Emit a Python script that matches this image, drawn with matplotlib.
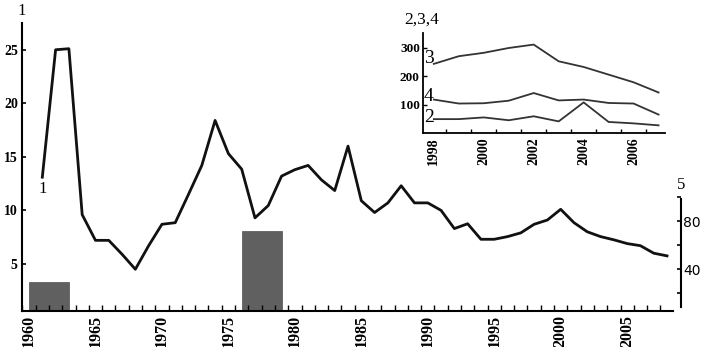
import numpy as np
import matplotlib
matplotlib.use("Agg")
import matplotlib.pyplot as plt

# series 1 (main line, left axis)
years1 = list(range(1961, 2009))
vals1 = [13.1, 25.0, 25.1, 9.6, 7.2, 7.2, 5.9, 4.5, 6.7, 8.7,
         8.85, 11.5, 14.2, 18.4, 15.3, 13.85, 9.3, 10.45, 13.2, 13.8,
         14.2, 12.85, 11.85, 16.0, 10.9, 9.8, 10.7, 12.3, 10.7, 10.7,
         10.0, 8.3, 8.75, 7.3, 7.3, 7.55, 7.9, 8.7, 9.1, 10.1,
         8.85, 8.0, 7.55, 7.25, 6.9, 6.7, 6.0, 5.75]

# series 5 (bars, right axis)
bar_start = [1960, 1976]
bar_width = [3, 3]
bar_vals = [29, 72]

# inset series 2, 3, 4
years_in = list(range(1998, 2008))
vals2 = [49, 49, 55, 45, 59, 41, 108, 39, 34, 27]
vals3 = [244, 271, 283, 300, 312, 253, 233, 206, 179, 143]
vals4 = [118, 104, 105, 114, 141, 115, 118, 106, 104, 65]

main_ticks = [1960, 1965, 1970, 1975, 1980, 1985, 1990, 1995, 2000, 2005]
inset_ticks = [1998, 2000, 2002, 2004, 2006]

serif = "Liberation Serif"

fig = plt.figure(figsize=(7.02, 3.47), dpi=100)
ax = fig.add_axes([0.0313, 0.1037, 0.9274, 0.83])

ax.plot(years1, vals1, color="#111111", lw=2.0, zorder=3)
ax.set_xlim(1959.47, 2008.45)
ax.set_ylim(0.6, 27.5)
ax.set_yticks([5, 10, 15, 20, 25])
ax.set_xticks(main_ticks)
ax.set_xticks(np.arange(1959.5, 2008.5, 1.0), minor=True)
ax.tick_params(axis="x", which="major", length=0, pad=3)
ax.tick_params(axis="x", which="minor", direction="in", length=4, width=1)
ax.tick_params(axis="y", direction="in", length=3, width=1.2, pad=3)
for lab in ax.get_xticklabels():
    lab.set_rotation(90)
    lab.set_fontfamily(serif)
    lab.set_fontweight("bold")
    lab.set_fontsize(11.5)
for lab in ax.get_yticklabels():
    lab.set_fontfamily(serif)
    lab.set_fontweight("bold")
    lab.set_fontsize(10)
ax.spines["top"].set_visible(False)
ax.spines["right"].set_visible(False)
ax.spines["left"].set_linewidth(1.5)
ax.spines["bottom"].set_linewidth(1.5)

# bars on the right axis
ax2 = ax.twinx()
ax2.bar(bar_start, bar_vals, width=bar_width, align="edge",
        color="#606060", edgecolor="#505050", lw=0.5, zorder=1)
ax2.set_ylim(5, 245)
ax2.set_yticks([40, 80])
ax2.set_yticks([20, 60, 100], minor=True)
ax2.tick_params(axis="y", which="both", direction="in", length=3, width=1.2, pad=1.5)
for lab in ax2.get_yticklabels():
    lab.set_fontfamily(serif)
    lab.set_fontweight("bold")
    lab.set_fontsize(9.5)
for s in ["top", "left", "bottom"]:
    ax2.spines[s].set_visible(False)
ax2.spines["right"].set_position(("outward", 6))
ax2.spines["right"].set_bounds(8, 98)
ax2.spines["right"].set_linewidth(1.5)
ax.set_zorder(ax2.get_zorder() + 1)
ax.patch.set_visible(False)

fig.text(22 / 702, 1 - 11 / 347, "1", fontfamily=serif, fontsize=12,
         ha="center", va="center")
fig.text(681 / 702, 1 - 185 / 347, "5", fontfamily=serif, fontsize=12,
         ha="center", va="center")
ax.text(1961.0, 12.0, "1", fontfamily=serif, fontsize=12,
        ha="center", va="center")

# inset
axi = fig.add_axes([0.602, 0.6167, 0.345, 0.2883])
axi.plot(years_in, vals3, color="#333333", lw=1.3)
axi.plot(years_in, vals4, color="#333333", lw=1.3)
axi.plot(years_in, vals2, color="#333333", lw=1.3)
axi.set_xlim(1997.55, 2007.25)
axi.set_ylim(0, 353)
axi.set_yticks([100, 200, 300])
axi.set_xticks(inset_ticks)
axi.set_xticks(np.arange(1998.5, 2007.5, 1.0), minor=True)
axi.tick_params(axis="x", which="major", length=0, pad=3)
axi.tick_params(axis="x", which="minor", direction="in", length=3, width=1)
axi.tick_params(axis="y", direction="in", length=3, width=1, pad=2)
for lab in axi.get_xticklabels():
    lab.set_rotation(90)
    lab.set_fontfamily(serif)
    lab.set_fontweight("bold")
    lab.set_fontsize(10)
for lab in axi.get_yticklabels():
    lab.set_fontfamily(serif)
    lab.set_fontweight("bold")
    lab.set_fontsize(9.5)
axi.spines["top"].set_visible(False)
axi.spines["right"].set_visible(False)
axi.spines["left"].set_linewidth(1.3)
axi.spines["bottom"].set_linewidth(1.3)
axi.patch.set_visible(False)

axi.text(1997.8, 262, "3", fontfamily=serif, fontsize=14, ha="center", va="center")
axi.text(1997.8, 130, "4", fontfamily=serif, fontsize=14, ha="center", va="center")
axi.text(1997.8, 56, "2", fontfamily=serif, fontsize=14, ha="center", va="center")
fig.text(404 / 702, 1 - 20 / 347, "2,3,4", fontfamily=serif, fontsize=12.5,
         ha="left", va="center")

fig.savefig("out.png", dpi=100)
